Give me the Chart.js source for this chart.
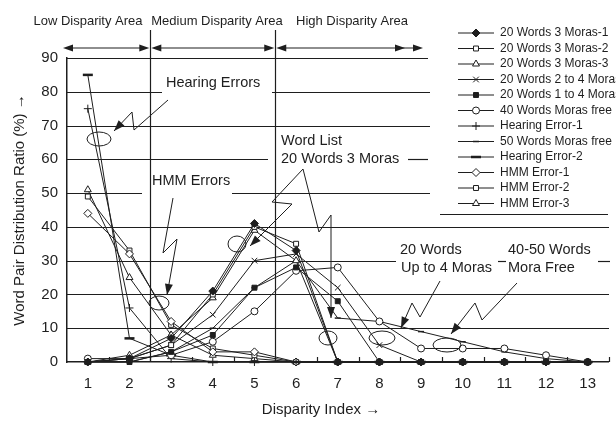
<!DOCTYPE html>
<html>
<head>
<meta charset="utf-8">
<script src="https://cdn.jsdelivr.net/npm/chart.js@4.4.0/dist/chart.umd.min.js"></script>
<style>
  body { margin: 0; background: #fff; }
  canvas { display: block; }
</style>
</head>
<body>
<canvas id="c" width="616" height="424"></canvas>
<script>
// disparity index 1..13
const disparityIndex = [1, 2, 3, 4, 5, 6, 7, 8, 9, 10, 11, 12, 13];
const yTicks = [0, 10, 20, 30, 40, 50, 60, 70, 80, 90];

// values (%), one per disparity index
const words3Moras1   = [0, 1, 7, 21, 41, 33, 0, 0, 0, 0, 0, 0, 0];
const words3Moras2   = [0, 1, 5, 20, 40, 35, 0, 0, 0, 0, 0, 0, 0];
const words3Moras3   = [0, 2, 8, 19, 39, 30, 0, 0, 0, 0, 0, 0, 0];
const words2to4Moras = [0, 1, 5, 14, 30, 32, 22, 5, 0, 0, 0, 0, 0];
const words1to4Moras = [0, 0, 3, 8, 22, 28, 18, 0, 0, 0, 0, 0, 0];
const words40Free    = [1, 1, 2, 6, 15, 27, 28, 12, 4, 4, 4, 2, 0];
const hearingError1  = [75, 16, 1, 0, 0, 0, 0, 0, 0, 0, 0, 0, 0];
const words50Free    = [0, 0, 3, 10, 22, 30, 13, 12, 9, 6, 3, 1, 0];
const hearingError2  = [85, 7, 2, 0, 0, 0, 0, 0, 0, 0, 0, 0, 0];
const hmmError1      = [44, 32, 12, 3, 3, 0, 0, 0, 0, 0, 0, 0, 0];
const hmmError2      = [49, 33, 11, 4, 2, 0, 0, 0, 0, 0, 0, 0, 0];
const hmmError3      = [51, 25, 8, 2, 1, 0, 0, 0, 0, 0, 0, 0, 0];

const areaLabels = ["Low Disparity Area", "Medium Disparity Area", "High Disparity Area"];

const ink = "#1e1e1e";
const font = "'Liberation Sans', Arial, Helvetica, sans-serif";

function pts(vals) {
  return vals.map((v, i) => ({ x: disparityIndex[i], y: v }));
}

const seriesDefs = [
  { label: "20 Words 3 Moras-1", data: words3Moras1, style: "rectRot", fill: ink, r: 4 },
  { label: "20 Words 3 Moras-2", data: words3Moras2, style: "rect", fill: "#fff", r: 3.5 },
  { label: "20 Words 3 Moras-3", data: words3Moras3, style: "triangle", fill: "#fff", r: 4 },
  { label: "20 Words 2 to 4 Moras", data: words2to4Moras, style: "crossRot", fill: "#fff", r: 4 },
  { label: "20 Words 1 to 4 Moras", data: words1to4Moras, style: "rect", fill: ink, r: 3.5 },
  { label: "40 Words Moras free", data: words40Free, style: "circle", fill: "#fff", r: 3.5 },
  { label: "Hearing Error-1", data: hearingError1, style: "cross", fill: "#fff", r: 4 },
  { label: "50 Words Moras free", data: words50Free, style: "line", fill: ink, r: 3, bw: 1.5 },
  { label: "Hearing Error-2", data: hearingError2, style: "line", fill: ink, r: 5, bw: 2.5 },
  { label: "HMM Error-1", data: hmmError1, style: "rectRot", fill: "#fff", r: 4 },
  { label: "HMM Error-2", data: hmmError2, style: "rect", fill: "#fff", r: 3.5 },
  { label: "HMM Error-3", data: hmmError3, style: "triangle", fill: "#fff", r: 4 }
];

const datasets = seriesDefs.map(s => ({
  label: s.label,
  data: pts(s.data),
  borderColor: ink,
  borderWidth: 1,
  pointStyle: s.style,
  pointRadius: s.r,
  pointBackgroundColor: s.fill,
  pointBorderColor: ink,
  pointBorderWidth: s.bw || 1,
  tension: 0,
  clip: false
}));

function arrowHead(ctx, x0, y0, x1, y1, len, half) {
  const a = Math.atan2(y1 - y0, x1 - x0);
  ctx.beginPath();
  ctx.moveTo(x1, y1);
  ctx.lineTo(x1 - len * Math.cos(a) + half * Math.sin(a), y1 - len * Math.sin(a) - half * Math.cos(a));
  ctx.lineTo(x1 - len * Math.cos(a) - half * Math.sin(a), y1 - len * Math.sin(a) + half * Math.cos(a));
  ctx.closePath();
  ctx.fill();
}

function zigzag(ctx, p) {
  ctx.beginPath();
  ctx.moveTo(p[0][0], p[0][1]);
  for (let i = 1; i < p.length; i++) ctx.lineTo(p[i][0], p[i][1]);
  ctx.stroke();
  const n = p.length;
  arrowHead(ctx, p[n - 2][0], p[n - 2][1], p[n - 1][0], p[n - 1][1], 11, 4);
}

function ellipse(ctx, x, y, rx, ry) {
  ctx.beginPath();
  ctx.ellipse(x, y, rx, ry, 0, 0, Math.PI * 2);
  ctx.stroke();
}

const deco = {
  id: "deco",
  beforeDatasetsDraw(chart) {
    const ctx = chart.ctx;
    const xs = chart.scales.x, ys = chart.scales.y;
    const bottom = ys.getPixelForValue(0);
    ctx.save();
    ctx.strokeStyle = ink;
    ctx.lineWidth = 1.2;
    // broken horizontal rules (gaps where the labels sit)
    const segs = [
      [90, [[67, 428]]],
      [80, [[67, 162], [272, 430]]],
      [70, [[67, 430]]],
      [60, [[67, 268], [408, 428]]],
      [50, [[67, 142], [232, 430]]],
      [40, [[67, 609]]],
      [30, [[67, 396], [498, 506], [598, 610]]],
      [20, [[67, 609]]],
      [10, [[67, 609]]]
    ];
    segs.forEach(([v, parts]) => {
      const y = Math.round(ys.getPixelForValue(v)) + 0.5;
      parts.forEach(([a, b]) => {
        ctx.beginPath(); ctx.moveTo(a, y); ctx.lineTo(b, y); ctx.stroke();
      });
    });
    // rule under the legend
    ctx.beginPath(); ctx.moveTo(440, 214.5); ctx.lineTo(608, 214.5); ctx.stroke();
    // area dividers
    [2.5, 5.5].forEach(v => {
      const x = Math.round(xs.getPixelForValue(v)) + 0.5;
      ctx.beginPath(); ctx.moveTo(x, 30); ctx.lineTo(x, bottom); ctx.stroke();
    });
    // small ticks between indices
    for (let v = 1.5; v <= 13.5; v += 1) {
      const x = Math.round(xs.getPixelForValue(v)) + 0.5;
      ctx.beginPath(); ctx.moveTo(x, bottom); ctx.lineTo(x, bottom - 5); ctx.stroke();
    }
    ctx.restore();
  },
  afterDatasetsDraw(chart) {
    const ctx = chart.ctx;
    const xs = chart.scales.x;
    ctx.save();
    ctx.strokeStyle = ink;
    ctx.fillStyle = ink;
    ctx.lineWidth = 1;

    // area captions and arrows
    ctx.font = "13px " + font;
    ctx.textAlign = "center";
    ctx.textBaseline = "middle";
    ctx.fillText(areaLabels[0], 88, 21);
    ctx.fillText(areaLabels[1], 217, 21);
    ctx.fillText(areaLabels[2], 352, 21);
    const d1 = xs.getPixelForValue(2.5), d2 = xs.getPixelForValue(5.5);
    const ay = 48;
    ctx.lineWidth = 1.2;
    [[63, d1 - 1], [d1 + 1, d2 - 1], [d2 + 1, 423]].forEach(([a, b]) => {
      ctx.beginPath(); ctx.moveTo(a + 4, ay); ctx.lineTo(b - 4, ay); ctx.stroke();
      arrowHead(ctx, a + 10, ay, a, ay, 10, 3.5);
      arrowHead(ctx, b - 10, ay, b, ay, 10, 3.5);
    });
    arrowHead(ctx, 395, ay, 405, ay, 10, 3.5);

    // callouts
    ctx.lineWidth = 1;
    ctx.font = "14.5px " + font;
    ctx.textAlign = "left";
    ctx.fillText("Hearing Errors", 166, 83);
    zigzag(ctx, [[168, 100], [134, 130], [132, 112], [114, 131]]);
    ellipse(ctx, 99, 139, 12, 7);

    ctx.fillText("HMM Errors", 152, 181);
    zigzag(ctx, [[173, 198], [163, 253], [177, 239], [167, 295]]);
    ellipse(ctx, 159, 303, 10, 7);

    ctx.fillText("Word List", 281, 141);
    ctx.fillText("20 Words 3 Moras", 281, 159);
    zigzag(ctx, [[303, 169], [272, 202], [292, 204], [250, 246]]);
    ellipse(ctx, 237, 244, 9, 8);
    zigzag(ctx, [[303, 169], [319, 232], [331, 215], [331, 318]]);
    ellipse(ctx, 328, 338, 9, 7);

    ctx.fillText("20 Words", 400, 250);
    ctx.fillText("Up to 4 Moras", 401, 268);
    zigzag(ctx, [[440, 281], [420, 317], [412, 303], [401, 328]]);
    ellipse(ctx, 382, 338, 13, 7);

    ctx.fillText("40-50 Words", 508, 250);
    ctx.fillText("Mora Free", 508, 268);
    zigzag(ctx, [[517, 283], [482, 320], [475, 303], [451, 334]]);
    ellipse(ctx, 447, 345, 14, 7);

    // legend
    ctx.font = "12px " + font;
    ctx.textBaseline = "middle";
    seriesDefs.forEach((s, i) => {
      const y = 33 + i * 15.5;
      ctx.strokeStyle = ink;
      ctx.lineWidth = 1;
      ctx.beginPath(); ctx.moveTo(458, y); ctx.lineTo(494, y); ctx.stroke();
      ctx.fillStyle = s.fill;
      ctx.lineWidth = s.bw || 1;
      Chart.helpers.drawPoint(ctx, { pointStyle: s.style, radius: s.r, rotation: 0, borderWidth: s.bw || 1 }, 476, y);
      ctx.fillStyle = ink;
      ctx.fillText(s.label, 500, y);
    });

    // axis titles
    ctx.font = "15px " + font;
    ctx.textAlign = "center";
    ctx.fillText("Disparity Index \u2192", 321, 410);
    ctx.translate(20, 210);
    ctx.rotate(-Math.PI / 2);
    ctx.fillText("Word Pair Distribution Ratio (%) \u2192", 0, 0);
    ctx.restore();
  }
};

new Chart(document.getElementById("c"), {
  type: "line",
  data: { datasets: datasets },
  plugins: [deco],
  options: {
    responsive: false,
    animation: false,
    devicePixelRatio: 1,
    layout: { padding: { top: 58, right: 7, left: 0, bottom: 0 } },
    plugins: { legend: { display: false }, tooltip: { enabled: false } },
    scales: {
      x: {
        type: "linear",
        min: 0.5,
        max: 13.5,
        afterBuildTicks: s => { s.ticks = disparityIndex.map(v => ({ value: v })); },
        afterFit: s => { s.height = 62; },
        grid: { display: false, drawTicks: false },
        border: { display: true, color: ink, width: 1.5 },
        ticks: { color: ink, padding: 13, font: { size: 15, family: font } }
      },
      y: {
        min: 0,
        max: 90,
        afterBuildTicks: s => { s.ticks = yTicks.map(v => ({ value: v })); },
        afterFit: s => { s.width = 67; },
        grid: { display: false, drawTicks: false },
        border: { display: true, color: ink, width: 1.5 },
        ticks: { color: ink, padding: 9, font: { size: 15, family: font } }
      }
    }
  }
});
</script>
</body>
</html>
